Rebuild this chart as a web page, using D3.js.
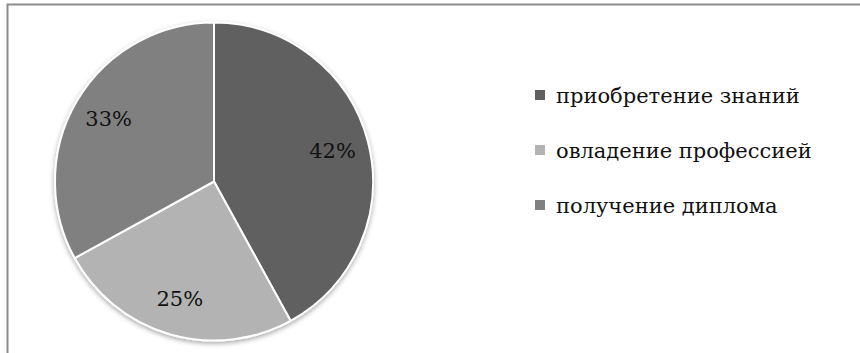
<!DOCTYPE html>
<html>
<head>
<meta charset="utf-8">
<script src="https://cdn.jsdelivr.net/npm/d3@7"></script>
<style>
  html, body { margin: 0; padding: 0; background: #fff; }
  svg { display: block; }
</style>
</head>
<body>
<svg id="chart" width="860" height="353"></svg>
<script>
// Motivation shares, clockwise from 12 o'clock
const categories = ["приобретение знаний", "овладение профессией", "получение диплома"];
const values = [42, 25, 33];
const colors = ["#606060", "#b3b3b3", "#808080"];

const FONT = "'DejaVu Serif', serif";

const svg = d3.select("#chart");
const W = 860, H = 353;

// chart frame (extends past the right and bottom edges)
svg.append("rect")
  .attr("x", 7.5).attr("y", 4.5)
  .attr("width", W + 20).attr("height", H + 20)
  .attr("fill", "#fff")
  .attr("stroke", "#8c8c8c")
  .attr("stroke-width", 2);

const defs = svg.append("defs");
const shadow = defs.append("filter").attr("id", "pieShadow")
  .attr("x", "-20%").attr("y", "-20%").attr("width", "140%").attr("height", "140%");
shadow.append("feDropShadow")
  .attr("dx", 0).attr("dy", 2).attr("stdDeviation", 2.5)
  .attr("flood-color", "#000").attr("flood-opacity", 0.35);

const cx = 214, cy = 181.5, r = 159;

const pie = d3.pie().sort(null).value(d => d);
const arcs = pie(values);
const arc = d3.arc().innerRadius(0).outerRadius(r);
const labelArc = d3.arc().innerRadius(r * 0.77).outerRadius(r * 0.77);

const g = svg.append("g").attr("transform", `translate(${cx},${cy})`);

g.append("g").attr("filter", "url(#pieShadow)")
  .selectAll("path")
  .data(arcs)
  .join("path")
  .attr("d", arc)
  .attr("fill", (d, i) => colors[i])
  .attr("stroke", "#fff")
  .attr("stroke-width", 2)
  .attr("stroke-linejoin", "round");

g.selectAll("text.pct")
  .data(arcs)
  .join("text")
  .attr("class", "pct")
  .attr("transform", d => {
    const [x, y] = labelArc.centroid(d);
    return `translate(${x},${y})`;
  })
  .attr("text-anchor", "middle")
  .attr("dy", "0.33em")
  .attr("font-family", FONT)
  .attr("font-size", 21)
  .attr("fill", "#111")
  .text(d => d.data + "%");

// legend
const legend = svg.append("g").attr("transform", "translate(535,90)");
const rowStep = 55;
const rows = legend.selectAll("g")
  .data(categories)
  .join("g")
  .attr("transform", (d, i) => `translate(0,${i * rowStep})`);

rows.append("rect")
  .attr("width", 10).attr("height", 10)
  .attr("fill", (d, i) => colors[i]);

rows.append("text")
  .attr("x", 21).attr("y", 12.5)
  .attr("font-family", FONT)
  .attr("font-size", 21)
  .attr("fill", "#111")
  .text(d => d);
</script>
</body>
</html>
